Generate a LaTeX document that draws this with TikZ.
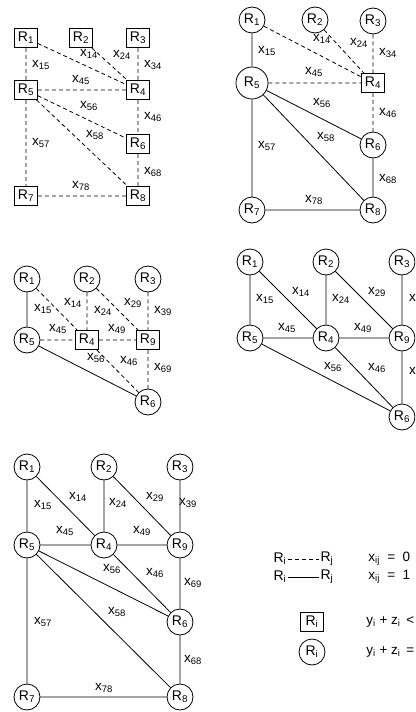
\documentclass[tikz,border=0pt]{standalone}
\usepackage{fontspec}
\setmainfont{Liberation Sans}
\usetikzlibrary{positioning}

\tikzset{
  sq/.style={draw,fill=white,minimum width=23pt,minimum height=19pt,inner sep=1pt},
  rc/.style={draw,circle,fill=white,minimum size=26pt,inner sep=0pt},
  dl/.style={dash pattern=on 4pt off 3pt},
  lab/.style={inner sep=0pt,font=\fontsize{13.5}{15}\selectfont}
}
\newcommand{\Rn}[1]{R\textsubscript{#1}}
\newcommand{\xl}[1]{x\textsubscript{#1}}

\begin{document}
\begin{tikzpicture}[x=1pt,y=-1pt,line width=0.8pt,font=\fontsize{14}{16}\selectfont]
  \useasboundingbox (0,0) rectangle (415,712);
  \clip (0,0) rectangle (415,712);

  % graph 1 (top left)
  \node[sq] (a1) at (26,38)   {\Rn{1}};
  \node[sq] (a2) at (81,38)   {\Rn{2}};
  \node[sq] (a3) at (138,38)  {\Rn{3}};
  \node[sq] (a5) at (26,90)   {\Rn{5}};
  \node[sq] (a4) at (138,90)  {\Rn{4}};
  \node[sq] (a6) at (138,144) {\Rn{6}};
  \node[sq] (a7) at (26,196)  {\Rn{7}};
  \node[sq] (a8) at (138,196) {\Rn{8}};
  \draw[dl] (a1) -- (a5) (a1) -- (a4) (a2) -- (a4) (a3) -- (a4)
            (a5) -- (a4) (a5) -- (a6) (a5) -- (a8) (a4) -- (a6)
            (a5) -- (a7) (a6) -- (a8) (a7) -- (a8);
  \node[lab] (ax15) at (41,65)   {\xl{15}};
  \node[lab] (ax14) at (89,54)   {\xl{14}};
  \node[lab] (ax24) at (122,55)  {\xl{24}};
  \node[lab] (ax34) at (153,65)  {\xl{34}};
  \node[lab] (ax45) at (81,80)   {\xl{45}};
  \node[lab] (ax56) at (89,106)  {\xl{56}};
  \node[lab] (ax46) at (153,117) {\xl{46}};
  \node[lab] (ax58) at (95,135)  {\xl{58}};
  \node[lab] (ax57) at (41,143)  {\xl{57}};
  \node[lab] (ax68) at (153,172) {\xl{68}};
  \node[lab] (ax78) at (81,186)  {\xl{78}};

  % graph 2 (top right)
  \node[rc] (b1) at (252,20)  {\Rn{1}};
  \node[rc] (b2) at (315,20)  {\Rn{2}};
  \node[rc] (b3) at (373,21)  {\Rn{3}};
  \node[rc,minimum size=32pt] (b5) at (252,83) {\Rn{5}};
  \node[sq] (b4) at (373,83)  {\Rn{4}};
  \node[rc] (b6) at (373,145) {\Rn{6}};
  \node[rc] (b7) at (252,210) {\Rn{7}};
  \node[rc] (b8) at (373,210) {\Rn{8}};
  \draw (b1) -- (b5) (b5) -- (b6) (b5) -- (b8) (b5) -- (b7)
        (b6) -- (b8) (b7) -- (b8);
  \draw[dl] (b1) -- (b4) (b2) -- (b4) (b3) -- (b4) (b5) -- (b4) (b4) -- (b6);
  \node[lab] (bx15) at (267,51)  {\xl{15}};
  \node[lab] (bx14) at (322,39)  {\xl{14}};
  \node[lab] (bx24) at (359,43)  {\xl{24}};
  \node[lab] (bx34) at (388,53)  {\xl{34}};
  \node[lab] (bx45) at (314,72)  {\xl{45}};
  \node[lab] (bx56) at (322,103) {\xl{56}};
  \node[lab] (bx46) at (388,113) {\xl{46}};
  \node[lab] (bx58) at (326,137) {\xl{58}};
  \node[lab] (bx57) at (267,146) {\xl{57}};
  \node[lab] (bx68) at (388,179) {\xl{68}};
  \node[lab] (bx78) at (314,200) {\xl{78}};

  % graph 3 (middle left)
  \node[rc] (c1) at (27,279)  {\Rn{1}};
  \node[rc] (c2) at (87,279)  {\Rn{2}};
  \node[rc] (c3) at (148,279) {\Rn{3}};
  \node[rc] (c5) at (27,340)  {\Rn{5}};
  \node[sq] (c4) at (87,340)  {\Rn{4}};
  \node[sq] (c9) at (148,340) {\Rn{9}};
  \node[rc] (c6) at (148,402) {\Rn{6}};
  \draw (c1) -- (c5) (c5) -- (c6);
  \draw[dl] (c1) -- (c4) (c2) -- (c4) (c2) -- (c9) (c3) -- (c9)
            (c5) -- (c4) (c4) -- (c9) (c4) -- (c6) (c9) -- (c6);
  \node[lab] (cx15) at (43,309)  {\xl{15}};
  \node[lab] (cx14) at (73,303)  {\xl{14}};
  \node[lab] (cx24) at (103,311) {\xl{24}};
  \node[lab] (cx29) at (133,303) {\xl{29}};
  \node[lab] (cx39) at (163,311) {\xl{39}};
  \node[lab] (cx45) at (58,329)  {\xl{45}};
  \node[lab] (cx49) at (117,329) {\xl{49}};
  \node[lab] (cx56) at (96,358)  {\xl{56}};
  \node[lab] (cx46) at (129,361) {\xl{46}};
  \node[lab] (cx69) at (163,368) {\xl{69}};

  % graph 4 (middle right)
  \node[rc] (d1) at (250,262) {\Rn{1}};
  \node[rc] (d2) at (326,262) {\Rn{2}};
  \node[rc] (d3) at (402,262) {\Rn{3}};
  \node[rc] (d5) at (250,338) {\Rn{5}};
  \node[rc] (d4) at (326,338) {\Rn{4}};
  \node[rc] (d9) at (402,338) {\Rn{9}};
  \node[rc] (d6) at (402,417) {\Rn{6}};
  \draw (d1) -- (d5) (d1) -- (d4) (d2) -- (d4) (d2) -- (d9) (d3) -- (d9)
        (d5) -- (d4) (d4) -- (d9) (d5) -- (d6) (d4) -- (d6) (d9) -- (d6);
  \node[lab] (dx15) at (265,299) {\xl{15}};
  \node[lab] (dx14) at (301,292) {\xl{14}};
  \node[lab] (dx24) at (341,299) {\xl{24}};
  \node[lab] (dx29) at (377,292) {\xl{29}};
  \node[lab] (dx39) at (418,299) {\xl{39}};
  \node[lab] (dx45) at (287,328) {\xl{45}};
  \node[lab] (dx49) at (363,328) {\xl{49}};
  \node[lab] (dx56) at (333,367) {\xl{56}};
  \node[lab] (dx46) at (377,368) {\xl{46}};
  \node[lab] (dx69) at (418,372) {\xl{69}};

  % graph 5 (bottom left)
  \node[rc] (e1) at (27,467)  {\Rn{1}};
  \node[rc] (e2) at (104,467) {\Rn{2}};
  \node[rc] (e3) at (180,467) {\Rn{3}};
  \node[rc] (e5) at (27,545)  {\Rn{5}};
  \node[rc] (e4) at (104,545) {\Rn{4}};
  \node[rc] (e9) at (180,545) {\Rn{9}};
  \node[rc] (e6) at (180,622) {\Rn{6}};
  \node[rc] (e7) at (27,697)  {\Rn{7}};
  \node[rc] (e8) at (180,697) {\Rn{8}};
  \draw (e1) -- (e5) (e1) -- (e4) (e2) -- (e4) (e2) -- (e9) (e3) -- (e9)
        (e5) -- (e4) (e4) -- (e9) (e5) -- (e6) (e5) -- (e8) (e4) -- (e6)
        (e9) -- (e6) (e5) -- (e7) (e6) -- (e8) (e7) -- (e8);
  \node[lab] (ex15) at (43,505)  {\xl{15}};
  \node[lab] (ex14) at (78,497)  {\xl{14}};
  \node[lab] (ex24) at (118,503) {\xl{24}};
  \node[lab] (ex29) at (155,497) {\xl{29}};
  \node[lab] (ex39) at (188,503) {\xl{39}};
  \node[lab] (ex45) at (65,531)  {\xl{45}};
  \node[lab] (ex49) at (142,531) {\xl{49}};
  \node[lab] (ex56) at (112,569) {\xl{56}};
  \node[lab] (ex46) at (155,573) {\xl{46}};
  \node[lab] (ex69) at (193,583) {\xl{69}};
  \node[lab] (ex58) at (117,612) {\xl{58}};
  \node[lab] (ex57) at (43,622)  {\xl{57}};
  \node[lab] (ex68) at (193,660) {\xl{68}};
  \node[lab] (ex78) at (104,688) {\xl{78}};

  % legend
  \node[inner sep=1pt] (li0) at (280,559) {\Rn{i}};
  \node[inner sep=1pt] (lj0) at (327,559) {\Rn{j}};
  \node[inner sep=1pt] (li1) at (280,577) {\Rn{i}};
  \node[inner sep=1pt] (lj1) at (327,577) {\Rn{j}};
  \draw[dl] (li0) -- (lj0);
  \draw (li1) -- (lj1);
  \node[lab,anchor=west] (lx0) at (368,559) {\xl{ij}\ \ =\ \ 0};
  \node[lab,anchor=west] (lx1) at (368,577) {\xl{ij}\ \ =\ \ 1};
  \node[sq] (ls) at (312,622) {\Rn{i}};
  \node[rc] (lc) at (312,652) {\Rn{i}};
  \node[lab,anchor=west] (ly0) at (366,622) {y\textsubscript{i} + z\textsubscript{i} \,<};
  \node[lab,anchor=west] (ly1) at (366,652) {y\textsubscript{i} + z\textsubscript{i} \,=};
\end{tikzpicture}
\end{document}
